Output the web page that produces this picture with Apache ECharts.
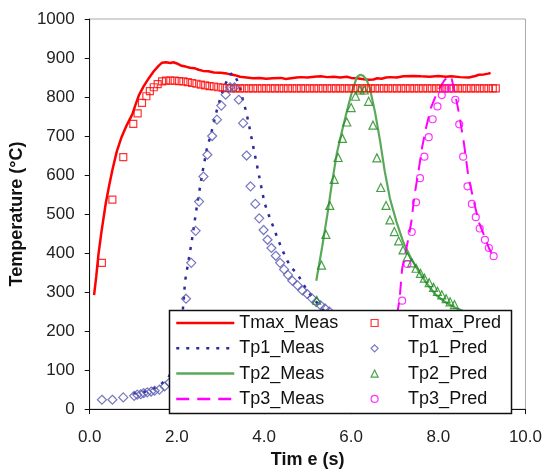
<!DOCTYPE html>
<html><head><meta charset="utf-8">
<script src="https://cdn.jsdelivr.net/npm/echarts@6/dist/echarts.min.js"></script>
<style>html,body{margin:0;padding:0;background:#fff}#c{width:545px;height:474px}</style>
</head><body><div id="c"></div>
<script>
const FONT = '"Liberation Sans", Arial, sans-serif';
const xTickLabels = ['0.0','2.0','4.0','6.0','8.0','10.0'];
const yTickLabels = ['0','100','200','300','400','500','600','700','800','900','1000'];
const measNames = ['Tmax_Meas','Tp1_Meas','Tp2_Meas','Tp3_Meas'];
const predNames = ['Tmax_Pred','Tp1_Pred','Tp2_Pred','Tp3_Pred'];

const tmaxMeas = [[0.1,292],[0.15,340],[0.2,396],[0.27,455],[0.37,529],[0.45,575],[0.52,613],[0.62,660],[0.73,697],[0.85,728],[0.98,756],[1.05,780],[1.13,805],[1.24,828],[1.36,849],[1.47,866],[1.58,880],[1.66,888],[1.75,889],[1.85,887],[1.92,889],[2.0,886],[2.11,880],[2.2,878],[2.3,875],[2.4,874],[2.5,870],[2.6,867],[2.72,866],[2.85,863],[3.0,862],[3.15,860],[3.33,856],[3.45,852],[3.6,850],[3.75,848],[3.9,849],[4.05,847],[4.2,848],[4.39,849],[4.5,846],[4.62,848],[4.75,850],[4.84,851],[5.0,850],[5.15,852],[5.3,853],[5.45,851],[5.6,852],[5.75,850],[5.9,852],[6.0,849],[6.13,848],[6.25,846],[6.4,844],[6.51,845],[6.6,848],[6.7,847],[6.8,850],[6.89,851],[7.04,850],[7.2,853],[7.42,854],[7.6,853],[7.8,852],[8.0,854],[8.17,852],[8.3,853],[8.5,851],[8.7,850],[8.85,854],[8.93,857],[9.05,858],[9.15,860],[9.2,862]];
const tp1Meas = [[1.0,40],[1.3,45],[1.6,60],[1.8,80],[1.95,110],[2.05,160],[2.12,230],[2.19,329],[2.34,429],[2.45,513],[2.57,596],[2.68,663],[2.8,713],[2.91,763],[3.02,805],[3.12,835],[3.21,855],[3.27,862],[3.35,850],[3.44,830],[3.52,790],[3.59,763],[3.67,720],[3.74,680],[3.82,635],[3.89,596],[4.01,529],[4.1,500],[4.2,471],[4.31,438],[4.42,408],[4.54,379],[4.65,360],[4.77,346],[4.9,320],[5.05,295],[5.2,275],[5.35,255],[5.5,240]];
const tp2Meas = [[5.2,329],[5.33,413],[5.45,496],[5.56,580],[5.67,655],[5.79,713],[5.9,763],[6.02,814],[6.13,851],[6.2,857],[6.27,855],[6.35,845],[6.43,822],[6.55,760],[6.66,690],[6.77,610],[6.89,540],[7.04,480],[7.19,430],[7.38,385],[7.57,350],[7.76,318],[7.95,292],[8.15,275],[8.35,262],[8.6,250]];
const tp3Meas = [[7.05,240],[7.11,280],[7.17,360],[7.3,430],[7.38,479],[7.45,546],[7.55,613],[7.63,672],[7.72,722],[7.83,772],[7.98,814],[8.14,843],[8.25,855],[8.3,850],[8.36,822],[8.48,755],[8.59,680],[8.69,596],[8.82,530],[8.93,479],[9.05,446],[9.16,413],[9.22,400]];

const tmaxPred = [[0.28,375],[0.52,537],[0.77,646],[1.0,731],[1.1,758],[1.2,785],[1.3,802],[1.38,815],[1.47,825],[1.56,833],[1.66,840],[1.75,842],[1.85,842],[1.95,842],[2.05,841],[2.15,840],[2.25,838],[2.35,836],[2.45,834],[2.55,832],[2.65,830],[2.75,828],[2.85,827],[2.95,825],[3.05,824],[3.15,823],[3.25,822],[3.35,822],[3.45,822],[3.55,822],[3.65,822],[3.75,822],[3.85,822],[3.95,822],[4.05,822],[4.15,822],[4.25,822],[4.35,822],[4.45,822],[4.55,822],[4.65,822],[4.75,822],[4.85,822],[4.95,822],[5.05,822],[5.15,822],[5.25,822],[5.35,822],[5.45,822],[5.55,822],[5.65,822],[5.75,822],[5.85,822],[5.95,822],[6.05,822],[6.15,822],[6.25,822],[6.35,822],[6.45,822],[6.55,822],[6.65,822],[6.75,822],[6.85,822],[6.95,822],[7.05,822],[7.15,822],[7.25,822],[7.35,822],[7.45,822],[7.55,822],[7.65,822],[7.75,822],[7.85,822],[7.95,822],[8.05,822],[8.15,822],[8.25,822],[8.35,822],[8.45,822],[8.55,822],[8.65,822],[8.75,822],[8.85,822],[8.95,822],[9.05,822],[9.15,822],[9.25,822],[9.32,822]];
const tp1Pred = [[0.28,24],[0.52,24],[0.77,30],[1.02,34],[1.09,37],[1.17,38],[1.24,41],[1.32,43],[1.41,45],[1.49,47],[1.6,50],[1.72,58],[1.83,68],[1.92,85],[2.02,120],[2.11,190],[2.21,283],[2.33,375],[2.43,457],[2.51,532],[2.61,596],[2.7,652],[2.81,700],[2.92,742],[3.02,778],[3.12,806],[3.22,825],[3.32,825],[3.42,793],[3.52,733],[3.6,650],[3.69,571],[3.8,526],[3.89,489],[3.99,459],[4.08,434],[4.17,413],[4.27,393],[4.37,375],[4.46,358],[4.55,344],[4.65,329],[4.77,317],[4.88,304],[4.99,295],[5.1,284],[5.2,274],[5.3,266],[5.4,258],[5.5,250]];
const tp2Pred = [[5.21,279],[5.32,369],[5.42,448],[5.51,522],[5.61,589],[5.7,645],[5.8,694],[5.9,736],[6.0,773],[6.1,802],[6.2,818],[6.3,818],[6.4,789],[6.5,728],[6.59,644],[6.68,568],[6.8,522],[6.89,485],[6.99,455],[7.09,431],[7.19,408],[7.29,390],[7.39,375],[7.49,361],[7.59,348],[7.68,336],[7.79,324],[7.89,312],[7.98,302],[8.08,293],[8.18,283],[8.27,275],[8.37,268]];
const tp3Pred = [[7.07,200],[7.17,278],[7.29,372],[7.39,454],[7.49,530],[7.58,592],[7.68,647],[7.78,697],[7.87,743],[7.98,776],[8.08,805],[8.17,822],[8.29,822],[8.39,793],[8.48,730],[8.57,647],[8.67,571],[8.77,526],[8.86,492],[8.95,463],[9.07,434],[9.16,413],[9.27,392]];

const chart = echarts.init(document.getElementById('c'), null, {renderer:'canvas'});
const lineS = (name, data, color, width, type) => ({
  name, type:'line', data, symbol:'none', showSymbol:false, smooth:false,
  lineStyle:{color, width, type}, itemStyle:{color}, animation:false, z:2
});
const scatS = (name, data, color, symbol, size) => ({
  name, type:'scatter', data, symbol, symbolSize:size, animation:false, z:2,
  itemStyle:{color:'rgba(255,255,255,0)', borderColor:color, borderWidth:1.2}
});
const axisLbl = {fontSize:17, color:'#222', fontFamily:FONT};
chart.setOption({
  backgroundColor:'#fff',
  grid:{left:87, right:18, top:19, bottom:55, show:true, borderColor:'#aaaaaa', borderWidth:1, backgroundColor:'#fff'},
  xAxis:{type:'value', min:0, max:10, interval:2,
    axisLabel:Object.assign({margin:20, formatter:(v)=>xTickLabels[Math.round(v/2)]}, axisLbl),
    axisLine:{onZero:false, lineStyle:{color:'#111', width:1}},
    axisTick:{length:5, lineStyle:{color:'#111'}},
    splitLine:{show:false},
    name:'Tim e (s)', nameLocation:'middle', nameGap:38,
    nameTextStyle:{fontSize:18, fontWeight:'bold', color:'#111', fontFamily:FONT}},
  yAxis:{type:'value', min:0, max:1000, interval:100,
    axisLabel:Object.assign({margin:15, formatter:(v)=>yTickLabels[Math.round(v/100)]}, axisLbl),
    axisLine:{show:true, onZero:false, lineStyle:{color:'#111', width:1}},
    axisTick:{show:true, length:5, lineStyle:{color:'#111'}},
    splitLine:{show:false},
    name:'Temperature (°C)', nameLocation:'middle', nameGap:62,
    nameTextStyle:{fontSize:18, fontWeight:'bold', color:'#111', fontFamily:FONT}},
  legend:[
    {orient:'vertical', left:175, top:314, padding:0, itemWidth:58, itemHeight:8, itemGap:7.3,
     selectedMode:false, data:measNames, lineStyle:{width:2.5}, itemStyle:{opacity:0},
     textStyle:{fontSize:18, lineHeight:18, color:'#111', fontFamily:FONT}},
    {orient:'vertical', left:370.5, top:314, padding:0, itemWidth:7, itemHeight:7, itemGap:7.3,
     selectedMode:false, data:predNames, itemStyle:{borderWidth:1.2},
     textStyle:{fontSize:18, lineHeight:18, color:'#111', fontFamily:FONT, padding:[0,0,0,25]}}
  ],
  graphic:[{type:'rect', z:3, zlevel:0,
    shape:{x:169.5, y:310.5, width:342, height:103},
    style:{fill:'#fff', stroke:'#111', lineWidth:1.5}}],
  series:[
    lineS('Tmax_Meas', tmaxMeas, '#ff0000', 2.5, 'solid'),
    lineS('Tp1_Meas', tp1Meas, '#2b2b99', 2.5, [3,7]),
    lineS('Tp2_Meas', tp2Meas, '#5aa85a', 2.2, 'solid'),
    lineS('Tp3_Meas', tp3Meas, '#ff00ff', 2, [13,8]),
    scatS('Tmax_Pred', tmaxPred, '#ff0000', 'rect', 7),
    scatS('Tp1_Pred', tp1Pred, '#5555b0', 'diamond', 9),
    scatS('Tp2_Pred', tp2Pred, '#1a8a1a', 'triangle', 8),
    scatS('Tp3_Pred', tp3Pred, '#ff00ff', 'circle', 7)
  ]
});
</script></body></html>
